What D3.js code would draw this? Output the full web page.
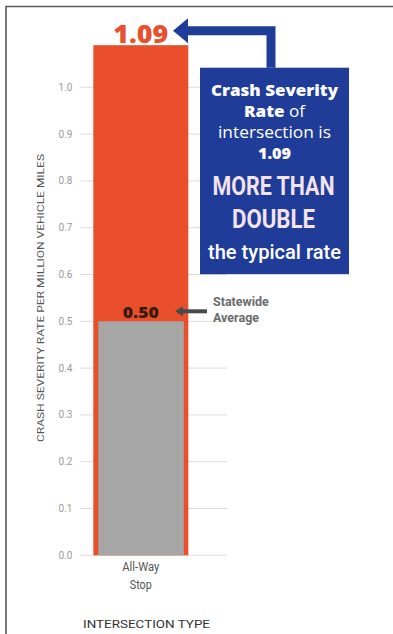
<!DOCTYPE html>
<html><head><meta charset="utf-8">
<script src="https://cdn.jsdelivr.net/npm/d3@7"></script>
<style>html,body{margin:0;padding:0;background:#fff;}svg{display:block;}</style>
</head><body>
<script>
// ---- data ----
const categories = ["All-Way Stop"];
const intersectionRate = [1.09];
const statewideAverage = [0.50];
const yTicks = [0.0,0.1,0.2,0.3,0.4,0.5,0.6,0.7,0.8,0.9,1.0];
const yTitle = "CRASH SEVERITY RATE PER MILLION VEHICLE MILES";
const xTitle = "INTERSECTION TYPE";
const calloutLines = [
  [{t:"Crash Severity", b:true}],
  [{t:"Rate", b:true},{t:" of", b:false}],
  [{t:"intersection is", b:false}],
  [{t:"1.09", b:true}]
];
const bigLines = ["MORE THAN","DOUBLE"];
const tailLine = "the typical rate";
const avgLabel = ["Statewide","Average"];

const W=393,H=634;
const svg=d3.select("body").append("svg").attr("width",W).attr("height",H);
const font="Roboto, 'Noto Sans', sans-serif";
const font2="'Open Sans', 'Noto Sans', sans-serif";

// frame
svg.append("path").attr("d",`M6,${H} L6,6.5 L${W},6.5`).attr("fill","none").attr("stroke","#5a5a5a").attr("stroke-width",1.6);

const y=d3.scaleLinear().domain([0,1]).range([555.3,87.3]);
const x=d3.scaleBand().domain(categories).range([80,227]).paddingInner(0).paddingOuter(0.2737).align(0.256);

// gridlines + tick labels
const ax=svg.append("g");
ax.selectAll("line").data(yTicks).join("line")
  .attr("x1",80).attr("x2",227).attr("y1",d=>y(d)).attr("y2",d=>y(d))
  .attr("stroke","#dcdcdc").attr("stroke-width",1);
ax.selectAll("text").data(yTicks).join("text")
  .attr("x",72.5).attr("y",d=>y(d)).attr("dy","0.35em").attr("text-anchor","end")
  .attr("font-family",font).attr("font-size",10).attr("fill","#9a9a9a")
  .text(d=>d3.format(".1f")(d));

// y title
svg.append("text").attr("transform",`translate(44,298) rotate(-90)`)
  .attr("text-anchor","middle").attr("font-family",font).attr("font-size",9.6).attr("fill","#555")
  .attr("textLength",288).attr("lengthAdjust","spacingAndGlyphs").text(yTitle);

// bars
svg.selectAll("rect.main").data(categories).join("rect").attr("class","main")
  .attr("x",d=>x(d)).attr("width",x.bandwidth())
  .attr("y",(d,i)=>y(intersectionRate[i])).attr("height",(d,i)=>y(0)-y(intersectionRate[i]))
  .attr("fill","#e84f2a");
const inset=5;
svg.selectAll("rect.avg").data(categories).join("rect").attr("class","avg")
  .attr("x",d=>x(d)+inset).attr("width",x.bandwidth()-2*inset+0.5)
  .attr("y",(d,i)=>y(statewideAverage[i])).attr("height",(d,i)=>y(0)-y(statewideAverage[i]))
  .attr("fill","#a6a6a6");

// x labels
categories.forEach(c=>{
  const cx=x(c)+x.bandwidth()/2;
  const parts=c.split(" ");
  const lens=[37,22];
  parts.forEach((p,i)=>{
    svg.append("text").attr("x",cx).attr("y",571+i*18).attr("text-anchor","middle")
      .attr("font-family",font).attr("font-size",12.5).attr("fill","#555")
      .attr("textLength",lens[i]).attr("lengthAdjust","spacingAndGlyphs").text(p);
  });
});
svg.append("text").attr("x",146.5).attr("y",628).attr("text-anchor","middle")
  .attr("font-family",font).attr("font-size",10.5).attr("fill","#333")
  .attr("textLength",127).attr("lengthAdjust","spacingAndGlyphs").text(xTitle);

// value labels
const bx=x(categories[0])+x.bandwidth()/2;
svg.append("text").attr("x",bx).attr("y",y(intersectionRate[0])-2.5).attr("text-anchor","middle")
  .attr("font-family",font2).attr("font-weight",800).attr("font-size",24).attr("fill","#e8502d")
  .attr("textLength",55).attr("lengthAdjust","spacingAndGlyphs").text(d3.format(".2f")(intersectionRate[0]));
svg.append("text").attr("x",bx).attr("y",y(statewideAverage[0])-3.8).attr("text-anchor","middle")
  .attr("font-family",font2).attr("font-weight",800).attr("font-size",16).attr("fill","#3a1a10")
  .attr("textLength",36).attr("lengthAdjust","spacingAndGlyphs").text(d3.format(".2f")(statewideAverage[0]));

// callout box
const blue="#1f3c98";
const boxX=200, boxY=67.7, boxW=149, boxH=206.5;
svg.append("rect").attr("x",boxX).attr("y",boxY).attr("width",boxW).attr("height",boxH).attr("fill",blue);
// connector arrow to 1.09 label
const aY=y(intersectionRate[0])-14.5;
svg.append("path").attr("d",`M271,${boxY} L271,${aY} L186,${aY}`).attr("fill","none").attr("stroke",blue).attr("stroke-width",9);
svg.append("path").attr("d",`M173,${aY} L188,${aY-12.5} L188,${aY+12.5} Z`).attr("fill",blue);

const cx2=boxX+boxW/2;
const baselines=[96,117,138,159];
const lineLens=[127,61,113,33];
const lineSizes=[15,15.5,16,15];
calloutLines.forEach((ln,i)=>{
  const t=svg.append("text").attr("x",cx2).attr("y",baselines[i]).attr("text-anchor","middle")
    .attr("font-family",font2).attr("font-size",lineSizes[i]).attr("fill","#fff")
    .attr("textLength",lineLens[i]).attr("lengthAdjust","spacingAndGlyphs");
  ln.forEach(s=>t.append("tspan").attr("font-weight",s.b?800:500).text(s.t));
});
const bigLens=[122,83];
bigLines.forEach((s,i)=>{
  svg.append("text").attr("x",cx2-1).attr("y",[195,228][i]).attr("text-anchor","middle")
    .attr("font-family",font).attr("font-weight",700).attr("font-size",25).attr("fill","#f3e3e8")
    .attr("textLength",bigLens[i]).attr("lengthAdjust","spacingAndGlyphs").text(s);
});
svg.append("text").attr("x",cx2).attr("y",258.5).attr("text-anchor","middle")
  .attr("font-family",font).attr("font-weight",500).attr("font-size",21).attr("fill","#fff")
  .attr("textLength",133).attr("lengthAdjust","spacingAndGlyphs").text(tailLine);

// statewide arrow + label
const sY=y(statewideAverage[0])-10;
svg.append("line").attr("x1",181).attr("x2",207).attr("y1",sY).attr("y2",sY).attr("stroke","#464b4b").attr("stroke-width",4);
svg.append("path").attr("d",`M175,${sY} L183,${sY-5} L183,${sY+5} Z`).attr("fill","#464b4b");
avgLabel.forEach((s,i)=>{
  svg.append("text").attr("x",213).attr("y",305.5+i*16.5).attr("font-family",font).attr("font-weight",700)
    .attr("font-size",12.5).attr("fill","#6b6b6b").text(s);
});
</script>
</body></html>
